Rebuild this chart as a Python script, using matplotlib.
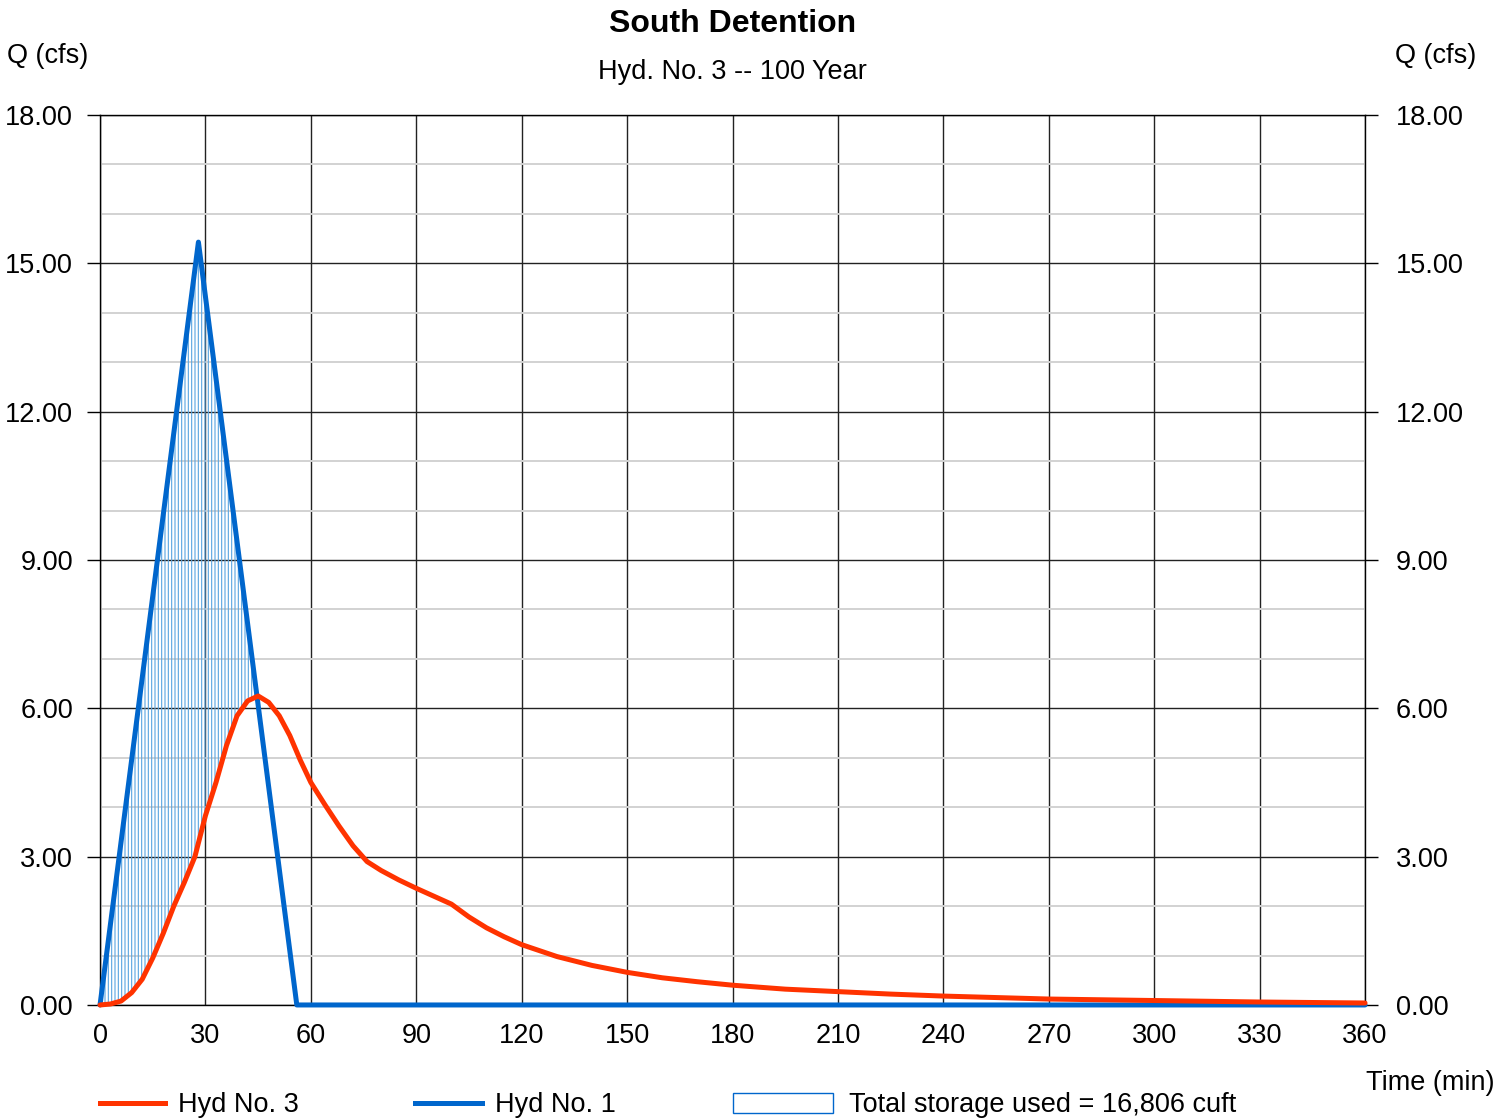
import numpy as np
import matplotlib
matplotlib.use("Agg")
import matplotlib.pyplot as plt
import matplotlib.transforms as mtransforms
from matplotlib.lines import Line2D
from matplotlib.patches import Rectangle

plt.rcParams['font.family'] = ['Liberation Sans', 'DejaVu Sans']
plt.rcParams['hatch.linewidth'] = 0.8

# Inflow hydrograph (Hyd No. 1)
t_in = [0, 28, 56, 360]
q_in = [0.0, 15.43, 0.0, 0.0]

# Outflow hydrograph (Hyd No. 3)
t_out = [0, 3, 6, 9, 12, 15, 18, 21, 24, 27, 30, 33, 36, 39, 42, 45, 48, 51, 54, 57,
         60, 64, 68, 72, 76, 80, 85, 90, 95, 100, 105, 110, 115, 120, 130, 140, 150,
         160, 170, 180, 195, 210, 225, 240, 270, 300, 330, 360]
q_out = [0.00, 0.02, 0.08, 0.25, 0.52, 0.95, 1.45, 2.00, 2.48, 3.00, 3.83, 4.50, 5.25,
         5.85, 6.15, 6.25, 6.12, 5.85, 5.45, 4.95, 4.50, 4.05, 3.62, 3.22, 2.90, 2.72,
         2.53, 2.36, 2.20, 2.04, 1.78, 1.56, 1.38, 1.22, 0.98, 0.80, 0.66, 0.55, 0.47,
         0.40, 0.32, 0.27, 0.22, 0.18, 0.12, 0.09, 0.06, 0.04]

x_ticks = list(range(0, 361, 30))
y_ticks = [0, 3, 6, 9, 12, 15, 18]

title = "South Detention"
subtitle = "Hyd. No. 3 -- 100 Year"
storage_label = "Total storage used = 16,806 cuft"

RED = "#FF3300"
BLUE = "#0066CC"
HATCH = "#5AA5E0"
FS = 19.5

fig = plt.figure(figsize=(15.11, 11.18), dpi=100)
ax = fig.add_axes([0.0662, 0.1011, 0.9034 - 0.0662, 0.8971 - 0.1011])

# hatched storage area
tg = np.union1d(t_in, t_out)
qi = np.interp(tg, t_in, q_in)
qo = np.interp(tg, t_out, q_out)
ax.fill_between(tg, qo, qi, where=qi > qo, interpolate=True, facecolor='none',
                edgecolor=HATCH, hatch='|||||', linewidth=0, zorder=2)

ax.plot(t_in, q_in, color=BLUE, lw=3.6, solid_joinstyle='round', solid_capstyle='round',
        zorder=4, clip_on=False)
ax.plot(t_out, q_out, color=RED, lw=3.6, solid_joinstyle='round', solid_capstyle='round',
        zorder=5, clip_on=False)

ax.set_xlim(0, 360)
ax.set_ylim(0, 18)
ax.set_xticks(x_ticks)
ax.set_yticks(y_ticks)
ax.set_yticks(np.arange(0, 18.5, 1), minor=True)
ax.set_yticklabels([f"{v:.2f}" for v in y_ticks])
ax.grid(True, which='major', axis='both', color='#222222', lw=1.0, zorder=1)
ax.grid(True, which='minor', axis='y', color='#d2d2d2', lw=1.4, zorder=0.5)
ax.set_axisbelow(True)
ax.tick_params(axis='x', which='both', length=0, pad=13, labelsize=FS)
ax.tick_params(axis='y', which='major', length=9.5, width=1, direction='out',
               labelsize=FS, pad=10, left=True, right=True, labelleft=True, labelright=True)
ax.tick_params(axis='y', which='minor', length=0)
# shift right-side labels slightly outward
offset = mtransforms.ScaledTranslation(3.5 / 100, 0, fig.dpi_scale_trans)
for tk in ax.yaxis.get_major_ticks():
    tk.label2.set_transform(tk.label2.get_transform() + offset)
for s in ax.spines.values():
    s.set_color('black')
    s.set_linewidth(1.0)

fig.text(0.485, 0.9785, title, ha='center', va='center', fontsize=23, fontweight='bold')
fig.text(0.485, 0.9355, subtitle, ha='center', va='center', fontsize=FS)
fig.text(0.0046, 0.950, "Q (cfs)", ha='left', va='center', fontsize=FS)
fig.text(0.977, 0.950, "Q (cfs)", ha='right', va='center', fontsize=FS)
fig.text(0.9888, 0.031, "Time (min)", ha='right', va='center', fontsize=FS)

# legend
ly = 0.0134
fig.add_artist(Line2D([0.0662, 0.1092], [ly, ly], color=RED, lw=3.6, transform=fig.transFigure))
fig.text(0.1178, ly - 0.0015, "Hyd No. 3", ha='left', va='center', fontsize=FS)
fig.add_artist(Line2D([0.2747, 0.3190], [ly, ly], color=BLUE, lw=3.6, transform=fig.transFigure))
fig.text(0.3276, ly - 0.0015, "Hyd No. 1", ha='left', va='center', fontsize=FS)
fig.add_artist(Rectangle((0.4851, 0.0045), 0.0662, 0.0179, facecolor='white',
                         edgecolor=BLUE, lw=1.0, transform=fig.transFigure))
fig.text(0.5619, ly - 0.0015, storage_label, ha='left', va='center', fontsize=FS)

fig.savefig("out.png", dpi=100)
